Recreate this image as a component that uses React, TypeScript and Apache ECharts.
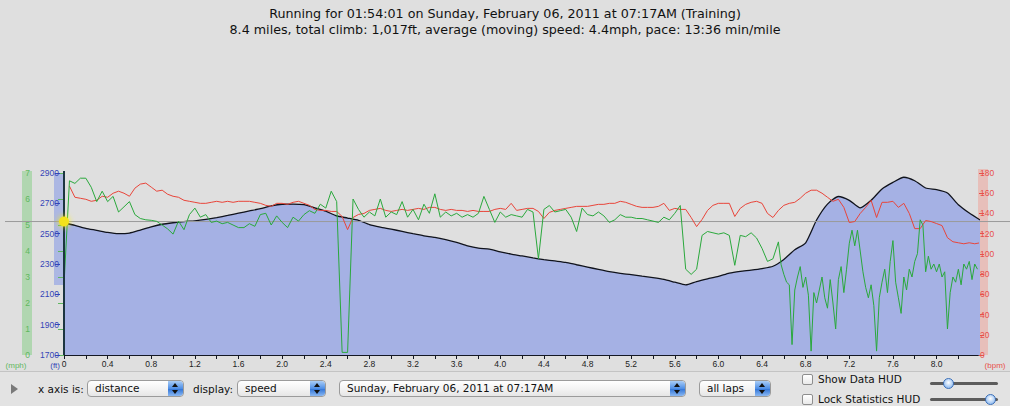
import React, { useEffect, useRef } from "react";
import * as echarts from "echarts";

// ---- data ----
const TITLE_LINE_1 = "Running for 01:54:01 on Sunday, February 06, 2011 at 07:17AM (Training)";
const TITLE_LINE_2 = "8.4 miles, total climb: 1,017ft, average (moving) speed: 4.4mph, pace: 13:36 min/mile";

const elevationStepMiles = 0.1;
const elevationFt = [
  2572, 2555, 2535, 2522, 2508, 2500, 2504, 2524, 2545, 2562,
  2572, 2580, 2585, 2594, 2606, 2620, 2635, 2650, 2665, 2683,
  2694, 2695, 2691, 2670, 2648, 2617, 2603, 2588, 2560, 2543,
  2530, 2515, 2500, 2486, 2475, 2460, 2442, 2420, 2405, 2398,
  2380, 2365, 2353, 2340, 2329, 2320, 2311, 2295, 2280, 2264,
  2249, 2238, 2230, 2220, 2210, 2198, 2180, 2162, 2184, 2202,
  2218, 2240, 2252, 2260, 2270, 2285, 2330, 2394, 2440, 2590,
  2695, 2745, 2720, 2670, 2720, 2795, 2838, 2872, 2849, 2801,
  2790, 2768, 2691, 2636, 2590,
];

// speed, first part: 0.00 .. 6.55 mi every 0.05 mi
const sampleStepMiles = 0.05;
const speedMph = [
  2.7, 6.7, 6.6, 6.8, 6.8, 6.45, 5.9, 6.3, 5.9, 6.1, 5.5, 5.7, 5.9, 5.4, 5.25, 5.2, 5.18, 5.14, 5.0, 4.85,
  4.65, 5.15, 4.82, 5.4, 5.65, 5.3, 5.4, 5.1, 5.15, 5.05, 5.1, 5.0, 4.9, 4.9, 5.05, 4.95, 5.4, 5.45, 5.0, 5.35,
  5.1, 4.9, 5.3, 5.15, 5.4, 5.55, 5.45, 5.8, 5.65, 6.3, 5.9, 0.1, 0.1, 6.0, 5.6, 5.3, 5.5, 5.35, 6.0, 5.3,
  5.5, 5.4, 5.9, 5.3, 5.6, 5.2, 5.8, 5.45, 6.2, 5.3, 5.5, 5.35, 5.45, 5.3, 5.4, 5.3, 5.45, 6.1, 5.6, 5.1,
  5.5, 5.3, 5.4, 5.35, 5.3, 5.6, 5.5, 3.7, 5.6, 5.75, 5.5, 5.55, 5.6, 5.3, 4.75, 5.65, 5.4, 5.35, 5.5, 5.35,
  5.1, 5.2, 5.4, 5.3, 5.3, 5.25, 5.25, 5.2, 5.15, 5.1, 5.3, 5.2, 5.45, 5.75, 3.3, 3.1, 3.3, 4.6, 4.75, 4.7,
  4.65, 4.7, 4.6, 3.45, 4.6, 4.55, 4.7, 4.5, 4.1, 3.6, 3.7, 4.35,
];
// speed, second part: 6.575 .. 8.375 mi every 0.025 mi (noisier stretch)
const lateStartMiles = 6.575;
const lateStepMiles = 0.025;
const speedLateMph = [
  3.47, 3.1, 2.8, 2.7, 0.4, 2.5, 3.0, 3.4, 2.6, 3.0,
  2.3, 0.15, 2.4, 2.0, 2.5, 3.0, 2.2, 1.8, 2.9, 2.0,
  1.0, 2.9, 3.4, 2.4, 3.3, 4.3, 4.8, 4.2, 4.8, 4.0,
  3.2, 2.6, 2.2, 2.7, 1.9, 0.15, 2.2, 2.8, 3.3, 2.4,
  3.6, 4.4, 2.8, 2.2, 1.6, 3.0, 2.5, 3.3, 3.0, 3.6,
  3.9, 5.2, 5.0, 3.2, 3.8, 3.3, 3.5, 3.2, 3.5, 3.0,
  3.2, 1.0, 2.4, 3.0, 2.8, 3.3, 2.7, 3.5, 3.3, 3.6,
  2.9, 3.5, 3.3,
];
const heartRateBpm = [
  null, 167, 156, 155, 154, 152, 153, 157, 156, 160, 162, 160, 157, 165, 169, 170, 166, 162, 163, 159,
  157, 156, 153, 152, 151, 150, 150, 151, 152, 151, 152, 151, 152, 152, 152, 151, 150, 148, 147, 150,
  150, 149, 151, 152, 150, 148, 144, 143, 143, 142, 142, 137, 124, 136, 139, 140, 143, 144, 145, 143,
  142, 143, 144, 143, 144, 145, 144, 146, 146, 144, 143, 144, 143, 143, 142, 143, 142, 142, 142, 144,
  145, 144, 150, 143, 144, 145, 145, 142, 135, 141, 143, 144, 145, 146, 147, 147, 147, 148, 149, 149,
  150, 150, 152, 151, 149, 147, 146, 146, 146, 147, 150, 143, 145, 144, 144, 136, 127, 134, 143, 148,
  150, 150, 150, 137, 145, 149, 151, 152, 150, 140, 136, 143, 148, 150, 151, 155, 160, 163, 163, 160,
  156, 152, 154, 146, 131, 132, 140, 146, 153, 136, 151, 151, 152, 146, 150, 140, 125, 125, 133, 132,
  130, 128, 116, 112, 111, 110, 111, 110, 111,
];

const cursorElevationFt = 2580;
const X_MAX = 8.38;

const FONT = "'Liberation Sans', Arial, sans-serif";
const UI_FONT = "'DejaVu Sans', sans-serif";
const GREEN = "#2aa83c";
const RED = "#e8453a";
const BLUE_LABEL = "#3445b8";
const GREEN_LABEL = "#5fb85f";
const RED_LABEL = "#e8504a";

function toPairs(values: (number | null)[], step: number, start = 0) {
  return values.map((v, i) => [Number((start + i * step).toFixed(3)), v]);
}

function Dropdown({ left, width, text }: { left: number; width: number; text: string }) {
  return (
    <div
      style={{
        position: "absolute",
        left,
        top: 380,
        width,
        height: 17,
        boxSizing: "border-box",
        border: "1px solid #9b9b9b",
        borderRadius: 4,
        background: "linear-gradient(#ffffff, #f1f1f1 60%, #e6e6e6)",
        fontFamily: UI_FONT,
        fontSize: 10.5,
        lineHeight: "15px",
        color: "#111",
        paddingLeft: 7,
        overflow: "hidden",
        whiteSpace: "nowrap",
      }}
    >
      {text}
      <div
        style={{
          position: "absolute",
          right: 0,
          top: 0,
          width: 15,
          height: 15,
          borderRadius: "0 3px 3px 0",
          background: "linear-gradient(#a9cdf7, #4f8fe6 50%, #3577d8 55%, #8ab8f2)",
        }}
      >
        <div style={{ position: "absolute", left: 4, top: 2, width: 0, height: 0, borderLeft: "3.5px solid transparent", borderRight: "3.5px solid transparent", borderBottom: "4px solid #111" }} />
        <div style={{ position: "absolute", left: 4, top: 9, width: 0, height: 0, borderLeft: "3.5px solid transparent", borderRight: "3.5px solid transparent", borderTop: "4px solid #111" }} />
      </div>
    </div>
  );
}

function Label({ left, top, text }: { left: number; top: number; text: string }) {
  return (
    <div style={{ position: "absolute", left, top, fontFamily: UI_FONT, fontSize: 10.5, lineHeight: "14px", color: "#111", whiteSpace: "nowrap" }}>
      {text}
    </div>
  );
}

function Checkbox({ top }: { top: number }) {
  return (
    <div style={{ position: "absolute", left: 802, top, width: 11, height: 11, boxSizing: "border-box", border: "1px solid #8e8e8e", borderRadius: 2, background: "linear-gradient(#ffffff, #e9e9e9)" }} />
  );
}

function Slider({ top, knob }: { top: number; knob: number }) {
  return (
    <>
      <div style={{ position: "absolute", left: 930, top, width: 68, height: 3, borderRadius: 2, background: "#5c5c5c" }} />
      <div style={{ position: "absolute", left: knob - 5, top: top - 4, width: 11, height: 11, boxSizing: "border-box", borderRadius: "50%", border: "1px solid #3b6fb8", background: "radial-gradient(circle at 50% 40%, #ffffff, #9cc3f2 70%)" }} />
    </>
  );
}

export default function App() {
  const ref = useRef<HTMLDivElement>(null);

  useEffect(() => {
    if (!ref.current) return;
    const chart = echarts.init(ref.current, null, { renderer: "svg" });

    const elevPairs = toPairs(elevationFt, elevationStepMiles);
    const speedPairs = toPairs(speedMph, sampleStepMiles).concat(toPairs(speedLateMph, lateStepMiles, lateStartMiles));
    const hrPairs = toPairs(heartRateBpm, sampleStepMiles).filter((p) => p[1] !== null);

    const axisLabelBase = { fontFamily: FONT, fontSize: 8.5 };

    chart.setOption({
      animation: false,
      backgroundColor: "#dfdfdf",
      title: {
        text: TITLE_LINE_1 + "\n" + TITLE_LINE_2,
        left: "center",
        top: 1,
        textStyle: { fontFamily: UI_FONT, fontSize: 12.7, fontWeight: "normal", color: "#111", lineHeight: 15.5 },
      },
      grid: { left: 64, right: 32, top: 173, bottom: 51, containLabel: false },
      xAxis: {
        type: "value",
        min: 0,
        max: X_MAX,
        interval: 0.2,
        axisLine: { show: true, lineStyle: { color: "#141824", width: 2 } },
        axisTick: { show: true, length: 4, lineStyle: { color: "#141824" } },
        axisLabel: {
          ...axisLabelBase,
          color: "#222",
          margin: 4,
          showMaxLabel: false,
          formatter: (v: number) => {
            const k = Math.round(v * 10);
            if (k % 4 !== 0) return "";
            return k === 0 ? "0" : (k / 10).toFixed(1);
          },
        },
        splitLine: { show: false },
      },
      yAxis: [
        {
          type: "value",
          min: 0,
          max: 7,
          interval: 1,
          position: "left",
          offset: 32,
          axisLine: { show: false },
          axisTick: { show: true, length: 6, lineStyle: { color: GREEN_LABEL } },
          axisLabel: { ...axisLabelBase, color: GREEN_LABEL, margin: 2, formatter: (v: number) => String(v) },
          splitLine: { show: false },
        },
        {
          type: "value",
          min: 1700,
          max: 2900,
          interval: 200,
          position: "left",
          offset: 4,
          axisLine: { show: false },
          axisTick: { show: true, length: 5, lineStyle: { color: BLUE_LABEL } },
          axisLabel: { ...axisLabelBase, color: BLUE_LABEL, margin: 1, formatter: (v: number) => String(v) },
          splitLine: { show: false },
        },
        {
          type: "value",
          min: 0,
          max: 180,
          interval: 20,
          position: "right",
          offset: 1,
          axisLine: { show: false },
          axisTick: { show: true, length: 5, lineStyle: { color: RED_LABEL } },
          axisLabel: { ...axisLabelBase, color: RED_LABEL, margin: 1, formatter: (v: number) => String(v) },
          splitLine: { show: false },
        },
      ],
      series: [
        {
          name: "elevation",
          type: "line",
          yAxisIndex: 1,
          data: elevPairs,
          symbol: "none",
          smooth: 0.2,
          lineStyle: { color: "#10131c", width: 1.3 },
          areaStyle: { color: "#a5b1e4", opacity: 1, origin: "start" },
          z: 1,
        },
        {
          name: "heart rate",
          type: "line",
          yAxisIndex: 2,
          data: hrPairs,
          symbol: "none",
          lineStyle: { color: RED, width: 1 },
          z: 3,
        },
        {
          name: "speed",
          type: "line",
          yAxisIndex: 0,
          data: speedPairs,
          symbol: "none",
          lineStyle: { color: GREEN, width: 1 },
          z: 4,
        },
      ],
    });

    const px = (v: number) => chart.convertToPixel({ xAxisIndex: 0 }, v) as number;
    const pySpeed = (v: number) => chart.convertToPixel({ yAxisIndex: 0 }, v) as number;
    const pyElev = (v: number) => chart.convertToPixel({ yAxisIndex: 1 }, v) as number;
    const pyHr = (v: number) => chart.convertToPixel({ yAxisIndex: 2 }, v) as number;

    const x0 = px(0);
    const xEnd = px(X_MAX);
    const yc = pyElev(cursorElevationFt);
    const elevMin = Math.min(...elevationFt);
    const bottomY = pyElev(1700);
    const unitY = bottomY + 10;

    chart.setOption({
      graphic: [
        { type: "rect", z: 0, shape: { x: 22, y: pySpeed(7) - 2, width: 10, height: pySpeed(0) - pySpeed(7) + 2 }, style: { fill: "rgba(120,205,120,0.45)" } },
        { type: "rect", z: 0, shape: { x: 54, y: pyElev(2900), width: 9, height: pyElev(elevMin) - pyElev(2900) }, style: { fill: "rgba(130,150,230,0.55)" } },
        { type: "rect", z: 0, shape: { x: xEnd, y: pyHr(180) - 4, width: 10, height: pyHr(0) - pyHr(180) + 4 }, style: { fill: "rgba(240,160,150,0.5)" } },
        { type: "line", z: 2, shape: { x1: 5, y1: yc, x2: 1010, y2: yc }, style: { stroke: "#9a9a9a", lineWidth: 1 } },
        { type: "line", z: 10, shape: { x1: x0, y1: pyElev(2900) - 2, x2: x0, y2: bottomY }, style: { stroke: "#1c3540", lineWidth: 2 } },
        { type: "circle", z: 11, shape: { cx: x0, cy: yc, r: 5 }, style: { fill: "#f3e21c", shadowBlur: 6, shadowColor: "#fff200" } },
        { type: "text", z: 10, x: 16, y: unitY, style: { text: "(mph)", fill: GREEN_LABEL, font: `8px ${FONT}`, textAlign: "center", textVerticalAlign: "middle" } },
        { type: "text", z: 10, x: 60, y: unitY, style: { text: "(ft)", fill: BLUE_LABEL, font: `8px ${FONT}`, textAlign: "right", textVerticalAlign: "middle" } },
        { type: "text", z: 10, x: 995, y: unitY, style: { text: "(bpm)", fill: RED_LABEL, font: `8px ${FONT}`, textAlign: "center", textVerticalAlign: "middle" } },
      ],
    });

    return () => chart.dispose();
  }, []);

  return (
    <div style={{ position: "absolute", left: 0, top: 0, width: 1010, height: 406, overflow: "hidden", background: "#dfdfdf" }}>
      <div ref={ref} style={{ position: "absolute", left: 0, top: 0, width: 1010, height: 406 }} />
      <div style={{ position: "absolute", left: 0, top: 371, width: 1010, height: 35, background: "#e3e3e3", borderTop: "1px solid #c4c4c4" }} />
      <div style={{ position: "absolute", left: 11, top: 384, width: 0, height: 0, borderTop: "5px solid transparent", borderBottom: "5px solid transparent", borderLeft: "7px solid #7a7a7a" }} />
      <Label left={38} top={382} text="x axis is:" />
      <Dropdown left={87} width={97} text="distance" />
      <Label left={193} top={382} text="display:" />
      <Dropdown left={237} width={89} text="speed" />
      <Dropdown left={339} width={347} text="Sunday, February 06, 2011 at 07:17AM" />
      <Dropdown left={699} width={72} text="all laps" />
      <Checkbox top={374} />
      <Label left={818} top={372} text="Show Data HUD" />
      <Checkbox top={394} />
      <Label left={818} top={392} text="Lock Statistics HUD" />
      <Slider top={382} knob={948} />
      <Slider top={398} knob={990} />
    </div>
  );
}
